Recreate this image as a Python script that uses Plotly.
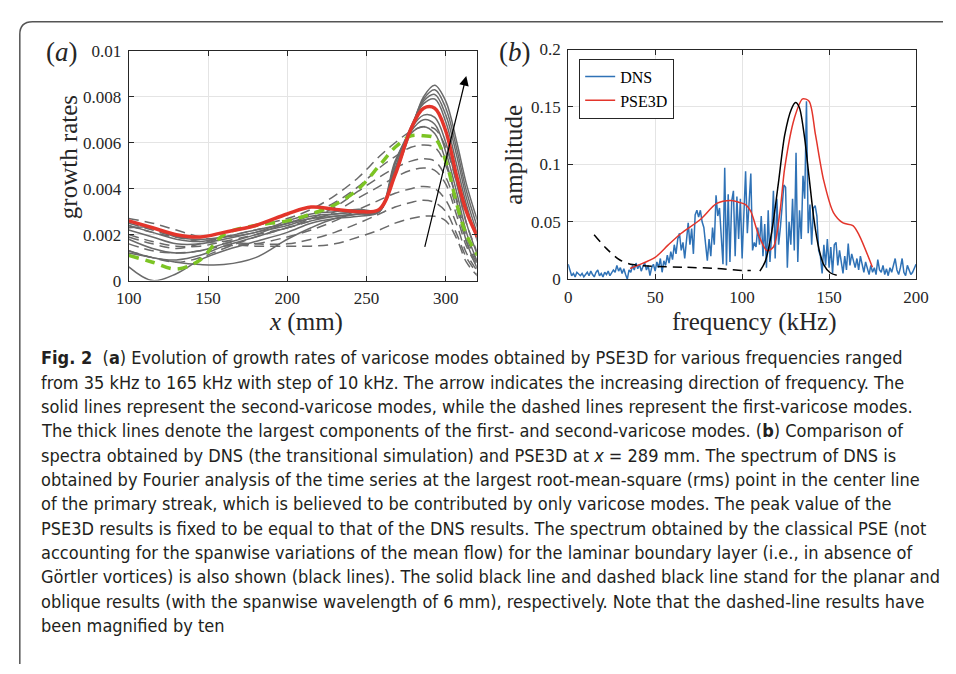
import plotly.graph_objects as go

W, H = 956, 674

# ---------------- Panel (a) data ----------------
xa = [100, 115, 130, 145, 160, 180, 200, 215, 230, 245, 258, 268, 278, 286, 293, 300, 307, 313, 320]

solid_gray = [
    [0.0023, 0.0023, 0.0019, 0.0018, 0.0019, 0.0021, 0.0026, 0.0029, 0.0030, 0.0031, 0.0031, 0.0046, 0.0065, 0.0080, 0.0085, 0.0078, 0.0060, 0.0042, 0.0026],
    [0.0024, 0.0021, 0.0018, 0.0017, 0.0019, 0.0022, 0.0025, 0.0028, 0.0029, 0.0030, 0.0031, 0.0047, 0.0066, 0.0079, 0.0083, 0.0075, 0.0057, 0.0039, 0.0023],
    [0.0022, 0.0019, 0.0016, 0.0016, 0.0018, 0.0021, 0.0024, 0.0027, 0.0028, 0.0029, 0.0030, 0.0048, 0.0066, 0.0078, 0.0081, 0.0072, 0.0054, 0.0036, 0.0020],
    [0.0018, 0.0014, 0.0012, 0.0013, 0.0016, 0.0020, 0.0025, 0.0027, 0.0029, 0.0030, 0.0031, 0.0049, 0.0067, 0.0077, 0.0079, 0.0069, 0.0050, 0.0033, 0.0017],
    [0.0013, 0.0010, 0.0009, 0.0011, 0.0015, 0.0019, 0.0023, 0.0026, 0.0028, 0.0029, 0.0030, 0.0051, 0.0066, 0.0072, 0.0071, 0.0060, 0.0042, 0.0025, 0.0011],
    [0.0012, 0.0010, 0.0008, 0.0007, 0.0007, 0.0010, 0.0018, 0.0023, 0.0027, 0.0029, 0.0030, 0.0051, 0.0065, 0.0070, 0.0068, 0.0056, 0.0038, 0.0021, 0.0008],
    [0.0006, 0.0000, 0.0003, 0.0009, 0.0013, 0.0017, 0.0021, 0.0025, 0.0027, 0.0028, 0.0030, 0.0052, 0.0064, 0.0067, 0.0064, 0.0052, 0.0034, 0.0017, 0.0005],
]

dashed_gray = [
    [0.0025, 0.0022, 0.0019, 0.0017, 0.0016, 0.0015, 0.0015, 0.0015, 0.0016, 0.0019, 0.0022, 0.0025, 0.0027, 0.0028, 0.0028, 0.0026, 0.0018, 0.0008, 0.0002],
    [0.0027, 0.0025, 0.0022, 0.0019, 0.0017, 0.0016, 0.0016, 0.0018, 0.0021, 0.0025, 0.0029, 0.0032, 0.0034, 0.0035, 0.0034, 0.0030, 0.0020, 0.0010, 0.0003],
    [0.0016, 0.0013, 0.0012, 0.0013, 0.0015, 0.0016, 0.0019, 0.0022, 0.0026, 0.0031, 0.0035, 0.0038, 0.0040, 0.0041, 0.0040, 0.0035, 0.0024, 0.0012, 0.0004],
    [0.0020, 0.0017, 0.0015, 0.0015, 0.0017, 0.0020, 0.0023, 0.0026, 0.0030, 0.0036, 0.0041, 0.0045, 0.0048, 0.0049, 0.0048, 0.0042, 0.0028, 0.0015, 0.0006],
    [0.0013, 0.0010, 0.0008, 0.0010, 0.0014, 0.0019, 0.0023, 0.0027, 0.0032, 0.0039, 0.0045, 0.0049, 0.0052, 0.0053, 0.0052, 0.0045, 0.0031, 0.0017, 0.0007],
    [0.0019, 0.0016, 0.0014, 0.0016, 0.0019, 0.0022, 0.0025, 0.0029, 0.0034, 0.0041, 0.0049, 0.0054, 0.0058, 0.0059, 0.0058, 0.0050, 0.0035, 0.0019, 0.0008],
    [0.0024, 0.0021, 0.0019, 0.0019, 0.0021, 0.0024, 0.0027, 0.0031, 0.0037, 0.0045, 0.0054, 0.0060, 0.0065, 0.0067, 0.0066, 0.0058, 0.0042, 0.0025, 0.0012],
]

red_thick = [0.0026, 0.0023, 0.0020, 0.0019, 0.0021, 0.0024, 0.0029, 0.0032, 0.0031, 0.0030, 0.0031, 0.0046, 0.0066, 0.0075, 0.0075, 0.0065, 0.0045, 0.0030, 0.0019]
green_thick = [0.0011, 0.0008, 0.0005, 0.0009, 0.0020, 0.0024, 0.0026, 0.0029, 0.0033, 0.0040, 0.0050, 0.0058, 0.0063, 0.0063, 0.0062, 0.0052, 0.0033, 0.0020, 0.0011]

arrow_tail = (286.5, 0.0014)
arrow_head = (312.9, 0.0089)

a_yticks = [0, 0.002, 0.004, 0.006, 0.008, 0.01]
a_yticklabels = ["0", "0.002", "0.004", "0.006", "0.008", "0.01"]
a_xticks = [100, 150, 200, 250, 300]

# ---------------- Panel (b) data ----------------
dns_amp = [
    0.013, 0.008, 0.003, 0.005, 0.002, 0.006, 0.004, 0.003, 0.005, 0.002,
    0.004, 0.006, 0.003, 0.007, 0.004, 0.002, 0.006, 0.008, 0.003, 0.005,
    0.002, 0.006, 0.004, 0.007, 0.003, 0.005, 0.008, 0.006, 0.012, 0.007,
    0.010, 0.005, 0.009, 0.004, 0.000, 0.008, 0.006, 0.012, 0.008, 0.014,
    0.009, 0.013, 0.007, 0.011, 0.014, 0.008, 0.012, 0.003, 0.010, 0.013,
    0.007, 0.015, 0.010, 0.018, 0.006, 0.016, 0.012, 0.021, 0.014, 0.024,
    0.017, 0.030, 0.022, 0.035, 0.040, 0.025, 0.032, 0.018, 0.034, 0.049,
    0.030, 0.044, 0.022, 0.056, 0.060, 0.054, 0.060, 0.050, 0.045, 0.030,
    0.016, 0.035, 0.020, 0.045, 0.030, 0.073, 0.055, 0.062, 0.040, 0.013,
    0.097, 0.012, 0.074, 0.015, 0.068, 0.077, 0.020, 0.072, 0.035, 0.070,
    0.018, 0.060, 0.094, 0.040, 0.070, 0.092, 0.025, 0.032, 0.028, 0.045,
    0.030, 0.055, 0.020, 0.048, 0.010, 0.060, 0.015, 0.040, 0.077, 0.018,
    0.070, 0.030, 0.045, 0.062, 0.082, 0.080, 0.010, 0.050, 0.030, 0.070,
    0.025, 0.110, 0.015, 0.060, 0.035, 0.090, 0.070, 0.155, 0.040, 0.065,
    0.030, 0.062, 0.064, 0.055, 0.025, 0.020, 0.005, 0.030, 0.012, 0.035,
    0.010, 0.028, 0.005, 0.030, 0.032, 0.012, 0.025, 0.015, 0.005, 0.020,
    0.008, 0.031, 0.012, 0.022, 0.015, 0.010, 0.018, 0.008, 0.020, 0.012,
    0.006, 0.015, 0.010, 0.004, 0.012, 0.006, 0.010, 0.004, 0.017, 0.008,
    0.006, 0.012, 0.004, 0.009, 0.003, 0.010, 0.006, 0.012, 0.018, 0.008,
    0.004, 0.010, 0.018, 0.006, 0.003, 0.012, 0.008, 0.004, 0.006, 0.009,
    0.013,
]
dns_freq = list(range(0, 201))

pse_freq = [35.6, 40, 50, 57.4, 65, 76, 85.4, 93.4, 98, 102, 105, 109.6, 114.3, 118, 121.7, 124.5, 130, 134.8, 138.5, 142.2, 146.9, 152.5, 158, 163.7, 167.4, 174.9]
pse_amp = [0.0093, 0.012, 0.019, 0.0296, 0.040, 0.052, 0.066, 0.0686, 0.067, 0.065, 0.059, 0.038, 0.0248, 0.028, 0.058, 0.097, 0.140, 0.157, 0.155, 0.1256, 0.086, 0.058, 0.049, 0.0466, 0.038, 0.0104]

pse_planar_freq = [110.2, 113.3, 117, 120.8, 124.5, 128.3, 130.7, 132.9, 135.7, 138.5, 141.3, 144.1, 146.9, 150.6, 154.4]
pse_planar_amp = [0.007, 0.0155, 0.041, 0.083, 0.1256, 0.148, 0.1538, 0.1495, 0.1256, 0.0889, 0.052, 0.0268, 0.0127, 0.0056, 0.0034]

pse_oblique_freq = [14.9, 21.9, 29.5, 36.9, 48.1, 66.7, 85.4, 100.3, 105]
pse_oblique_amp = [0.0387, 0.0268, 0.0169, 0.0127, 0.0113, 0.0104, 0.0093, 0.0076, 0.0076]

b_xticks = [0, 50, 100, 150, 200]
b_yticks = [0, 0.05, 0.1, 0.15, 0.2]
b_yticklabels = ["0", "0.05", "0.1", "0.15", "0.2"]

caption_lines = [
    "<b>Fig. 2</b>  (<b>a</b>) Evolution of growth rates of varicose modes obtained by PSE3D for various frequencies ranged",
    "from 35 kHz to 165 kHz with step of 10 kHz. The arrow indicates the increasing direction of frequency. The",
    "solid lines represent the second-varicose modes, while the dashed lines represent the first-varicose modes.",
    "The thick lines denote the largest components of the first- and second-varicose modes. (<b>b</b>) Comparison of",
    "spectra obtained by DNS (the transitional simulation) and PSE3D at <i>x</i> = 289 mm. The spectrum of DNS is",
    "obtained by Fourier analysis of the time series at the largest root-mean-square (rms) point in the center line",
    "of the primary streak, which is believed to be contributed by only varicose modes. The peak value of the",
    "PSE3D results is fixed to be equal to that of the DNS results. The spectrum obtained by the classical PSE (not",
    "accounting for the spanwise variations of the mean flow) for the laminar boundary layer (i.e., in absence of",
    "Görtler vortices) is also shown (black lines). The solid black line and dashed black line stand for the planar and",
    "oblique results (with the spanwise wavelength of 6 mm), respectively. Note that the dashed-line results have",
    "been magnified by ten",
]

# ---------------- Figure ----------------
GRAY = "#6a6a6a"
BLUE = "#2f72b6"
RED = "#e3352b"
GREEN = "#7cc424"
SERIF = "Liberation Serif, Times New Roman, serif"
AXC = "#262626"

fig = go.Figure()

for ys in dashed_gray:
    fig.add_trace(go.Scatter(x=xa, y=ys, mode="lines", line=dict(color=GRAY, width=1.5, dash="10px,6px", shape="spline", smoothing=1.0),
                             xaxis="x", yaxis="y", showlegend=False, hoverinfo="skip"))
for ys in solid_gray:
    fig.add_trace(go.Scatter(x=xa, y=ys, mode="lines", line=dict(color=GRAY, width=1.5, shape="spline", smoothing=1.0),
                             xaxis="x", yaxis="y", showlegend=False, hoverinfo="skip"))
fig.add_trace(go.Scatter(x=xa, y=green_thick, mode="lines", line=dict(color=GREEN, width=3.5, dash="10px,7px", shape="spline", smoothing=1.0),
                         xaxis="x", yaxis="y", showlegend=False))
fig.add_trace(go.Scatter(x=xa, y=red_thick, mode="lines", line=dict(color=RED, width=3.5, shape="spline", smoothing=1.0),
                         xaxis="x", yaxis="y", showlegend=False))

fig.add_trace(go.Scatter(x=dns_freq, y=dns_amp, mode="lines", name="DNS", line=dict(color=BLUE, width=1.5),
                         xaxis="x2", yaxis="y2"))
fig.add_trace(go.Scatter(x=pse_freq, y=pse_amp, mode="lines", name="PSE3D", line=dict(color=RED, width=1.5, shape="spline", smoothing=0.8),
                         xaxis="x2", yaxis="y2"))
fig.add_trace(go.Scatter(x=pse_planar_freq, y=pse_planar_amp, mode="lines", line=dict(color="black", width=1.5, shape="spline", smoothing=0.8),
                         xaxis="x2", yaxis="y2", showlegend=False))
fig.add_trace(go.Scatter(x=pse_oblique_freq, y=pse_oblique_amp, mode="lines", line=dict(color="black", width=1.5, dash="9px,6px", shape="spline", smoothing=0.8),
                         xaxis="x2", yaxis="y2", showlegend=False))

def px_x(p):
    return p / W

def px_y(p):
    return 1 - p / H

axis_common = dict(showline=True, linecolor=AXC, linewidth=1, mirror="ticks", ticks="inside", ticklen=5, tickcolor=AXC,
                   showgrid=True, gridcolor="#e4e4e4", gridwidth=1, zeroline=False,
                   tickfont=dict(family=SERIF, size=17, color=AXC))

fig.update_layout(
    width=W, height=H, margin=dict(l=0, r=0, t=0, b=0),
    paper_bgcolor="white", plot_bgcolor="white",
    xaxis=dict(domain=[px_x(119), px_x(476.7)], range=[100, 319.5], tickvals=a_xticks, anchor="y", ticklabelstandoff=2, **axis_common),
    yaxis=dict(domain=[px_y(279.5), px_y(43)], range=[0, 0.01], tickvals=a_yticks, ticktext=a_yticklabels, anchor="x", ticklabelstandoff=3, **axis_common),
    xaxis2=dict(domain=[px_x(570.7), px_x(928.3)], range=[0, 200], tickvals=b_xticks, anchor="y2", ticklabelstandoff=2, **axis_common),
    yaxis2=dict(domain=[px_y(278), px_y(41.7)], range=[0, 0.2], tickvals=b_yticks, ticktext=b_yticklabels, anchor="x2", ticklabelstandoff=3, **axis_common),
    legend=dict(x=px_x(582), y=px_y(51), xanchor="left", yanchor="top", bordercolor=AXC, borderwidth=1, bgcolor="white",
                font=dict(family=SERIF, size=16, color="black"), tracegroupgap=0, itemwidth=30),
    showlegend=True,
)

ann = []
ann.append(dict(x=arrow_head[0], y=arrow_head[1], ax=arrow_tail[0], ay=arrow_tail[1], xref="x", yref="y", axref="x", ayref="y",
                showarrow=True, arrowhead=2, arrowsize=1.6, arrowwidth=1.2, arrowcolor="black", text=""))
ann.append(dict(x=px_x(50), y=px_y(44), xref="paper", yref="paper", text="(<i>a</i>)", showarrow=False,
                font=dict(family=SERIF, size=27, color=AXC), xanchor="center", yanchor="middle"))
ann.append(dict(x=px_x(516), y=px_y(44), xref="paper", yref="paper", text="(<i>b</i>)", showarrow=False,
                font=dict(family=SERIF, size=27, color=AXC), xanchor="center", yanchor="middle"))
ann.append(dict(x=px_x(57), y=px_y(152), xref="paper", yref="paper", text="growth rates", textangle=-90, showarrow=False,
                font=dict(family=SERIF, size=25, color=AXC), xanchor="center", yanchor="middle"))
ann.append(dict(x=px_x(515), y=px_y(150), xref="paper", yref="paper", text="amplitude", textangle=-90, showarrow=False,
                font=dict(family=SERIF, size=25, color=AXC), xanchor="center", yanchor="middle"))
ann.append(dict(x=px_x(301), y=px_y(322.5), xref="paper", yref="paper", text="<i>x</i> (mm)", showarrow=False,
                font=dict(family=SERIF, size=25, color=AXC), xanchor="center", yanchor="middle"))
ann.append(dict(x=px_x(762), y=px_y(322.5), xref="paper", yref="paper", text="frequency (kHz)", showarrow=False,
                font=dict(family=SERIF, size=25, color=AXC), xanchor="center", yanchor="middle"))

for i, line in enumerate(caption_lines):
    ann.append(dict(x=px_x(27), y=px_y(359 + 25.05 * i), xref="paper", yref="paper", text=line, showarrow=False,
                    xanchor="left", yanchor="middle",
                    font=dict(family="Liberation Sans Narrow, DejaVu Sans Condensed, Roboto, Liberation Sans, sans-serif", size=18, color="#231f20")))

fig.update_layout(annotations=ann)

# rounded frame around the figure
x0, y0 = px_x(7), px_y(13)
path = f"M {x0},0 L {x0},{px_y(26)} Q {x0},{y0} {px_x(20)},{y0} L 1,{y0}"
fig.add_shape(type="path", path=path, xref="paper", yref="paper", line=dict(color="#555555", width=1.5))

fig.write_html("out.html")
